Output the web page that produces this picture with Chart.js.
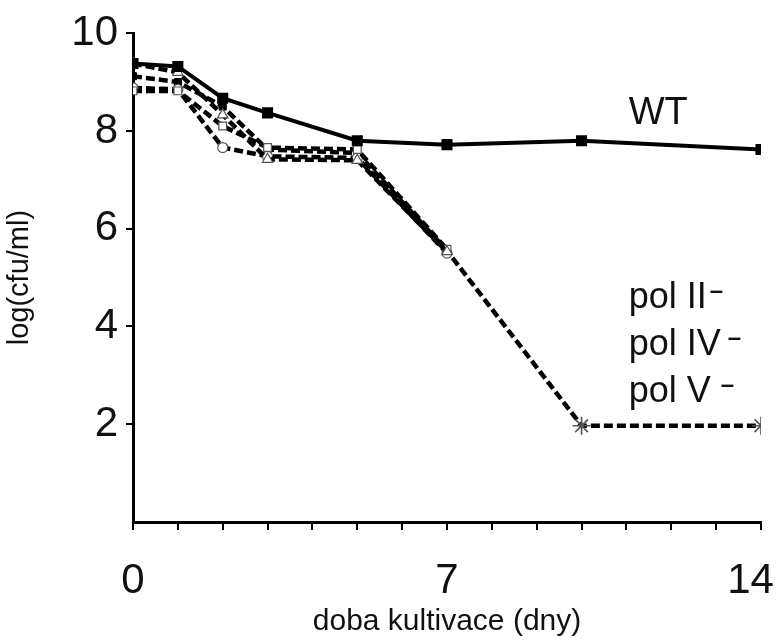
<!DOCTYPE html>
<html>
<head>
<meta charset="utf-8">
<script src="https://cdn.jsdelivr.net/npm/chart.js@4"></script>
<style>
  html, body { margin: 0; padding: 0; background: #fff; }
  #wrap { width: 777px; height: 641px; }
</style>
</head>
<body>
<div id="wrap"><canvas id="c" width="777" height="641"></canvas></div>
<script>
// ---- data ----
const days = [0, 1, 2, 3, 5, 7, 10, 14];
const wtValues      = [9.38, 9.32, 8.67, 8.37, 7.80, 7.72, 7.80, 7.62];
const tripleValues  = [9.12, 9.00, 8.50, 7.62, 7.55, 5.55, 1.97, 1.97];
const squareValues  = [8.82, 8.82, 8.10, 7.66, 7.62, 5.58, null, null];
const triangleValues= [9.38, 9.20, 8.33, 7.42, 7.40, 5.53, null, null];
const circleValues  = [8.88, 8.85, 7.66, 7.48, 7.45, 5.50, null, null];
const xTickLabelValues = [0, 7, 14];
const yTickLabelValues = [2, 4, 6, 8, 10];
const wtLabel = 'WT';
const mutantLabels = ['pol II', 'pol IV', 'pol V'];
const axisTitleX = 'doba kultivace (dny)';
const axisTitleY = 'log(cfu/ml)';

const pts = vals => days.map((d, i) => ({ x: d, y: vals[i] }));
const FONT = "'Liberation Sans', Arial, sans-serif";

const annotations = {
  id: 'annotations',
  afterDraw(chart) {
    const ctx = chart.ctx;
    const xs = chart.scales.x, ys = chart.scales.y;
    ctx.save();
    ctx.fillStyle = '#111';
    ctx.textBaseline = 'alphabetic';
    ctx.textAlign = 'left';
    const x0 = xs.getPixelForValue(11.05);
    ctx.font = '38px ' + FONT;
    ctx.fillText(wtLabel, x0, ys.getPixelForValue(8.15));
    const baseY = [4.37, 3.41, 2.46];
    const gaps = [3, 7, 10];
    mutantLabels.forEach((t, i) => {
      const y0 = ys.getPixelForValue(baseY[i]);
      ctx.font = '36px ' + FONT;
      ctx.fillText(t, x0, y0);
      const w = ctx.measureText(t).width;
      ctx.font = 'bold 24px ' + FONT;
      ctx.fillText('\u2013', x0 + w + gaps[i], y0 - 10);
    });
    ctx.restore();
  }
};

new Chart(document.getElementById('c'), {
  type: 'line',
  data: {
    datasets: [
      {
        label: 'WT', data: pts(wtValues), order: 0,
        borderColor: '#000', borderWidth: 4, pointStyle: 'rect',
        pointRadius: 5, pointBackgroundColor: '#000', pointBorderColor: '#000',
        tension: 0
      },
      {
        label: 'triangle', data: pts(triangleValues), order: 1,
        borderColor: '#000', borderWidth: 4.5, borderDash: [9, 4], pointStyle: 'triangle',
        pointRadius: 6, pointBackgroundColor: '#fff', pointBorderColor: '#555', pointBorderWidth: 1.2,
        tension: 0
      },
      {
        label: 'square', data: pts(squareValues), order: 2,
        borderColor: '#000', borderWidth: 4.5, borderDash: [9, 4], pointStyle: 'rect',
        pointRadius: 5.5, pointBackgroundColor: '#fff', pointBorderColor: '#555', pointBorderWidth: 1.2,
        tension: 0
      },
      {
        label: 'circle', data: pts(circleValues), order: 3,
        borderColor: '#000', borderWidth: 4.5, borderDash: [9, 4], pointStyle: 'circle',
        pointRadius: 5, pointBackgroundColor: '#fff', pointBorderColor: '#555', pointBorderWidth: 1.2,
        tension: 0
      },
      {
        label: 'triple', data: pts(tripleValues), order: 4,
        borderColor: '#000', borderWidth: 4.5, borderDash: [9, 4],
        pointStyle: days.map(d => d >= 10 ? 'star' : 'rect'),
        pointRadius: days.map(d => d >= 10 ? 9 : 5),
        pointBackgroundColor: '#000',
        pointBorderColor: days.map(d => d >= 10 ? '#555' : '#000'),
        pointBorderWidth: days.map(d => d >= 10 ? 1.6 : 1),
        tension: 0
      }
    ]
  },
  options: {
    responsive: false,
    animation: false,
    layout: { padding: { left: 0, right: 16, top: 30, bottom: 0 } },
    plugins: { legend: { display: false }, tooltip: { enabled: false } },
    scales: {
      x: {
        type: 'linear', min: 0, max: 14,
        afterFit: s => { s.height = 119; s.paddingRight = 0; s.paddingLeft = 0; },
        grid: { drawOnChartArea: false, drawTicks: true, tickLength: 8, color: '#000', lineWidth: 2 },
        border: { display: true, color: '#000', width: 3 },
        ticks: {
          stepSize: 1, autoSkip: false, maxRotation: 0, padding: 26,
          color: '#111', font: { family: FONT, size: 42 },
          callback: v => xTickLabelValues.includes(v) ? (v === 14 ? String(v) + '\u2002' : String(v)) : ''
        },
        title: { display: true, text: axisTitleX, color: '#111', font: { family: FONT, size: 30 }, padding: { top: 0, bottom: 1 } }
      },
      y: {
        type: 'linear', min: 0, max: 10,
        afterFit: s => { s.width = 133; },
        grid: {
          drawOnChartArea: false, drawTicks: true, tickLength: 7, lineWidth: 2,
          color: c => c.tick && c.tick.value === 0 ? 'rgba(0,0,0,0)' : '#000'
        },
        border: { display: true, color: '#000', width: 3 },
        ticks: {
          stepSize: 2, padding: 8, color: '#111', font: { family: FONT, size: 42 },
          callback: v => yTickLabelValues.includes(v) ? String(v) : ''
        },
        title: { display: true, text: axisTitleY, color: '#111', font: { family: FONT, size: 29 }, padding: { top: 3, bottom: 0 } }
      }
    }
  },
  plugins: [annotations]
});
</script>
</body>
</html>
